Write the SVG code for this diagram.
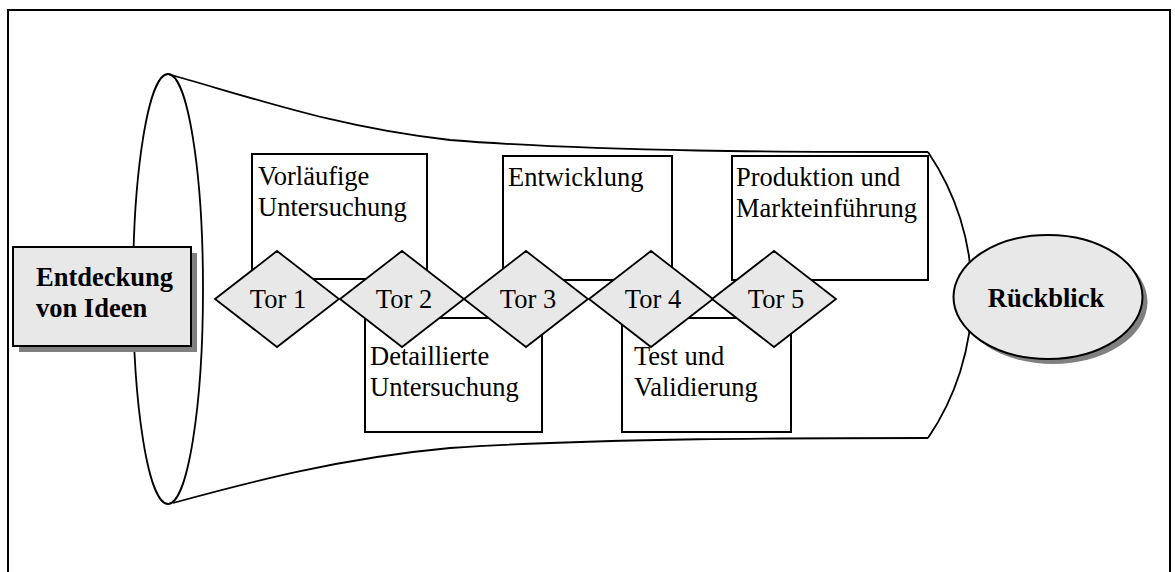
<svg xmlns="http://www.w3.org/2000/svg" width="1175" height="572" viewBox="0 0 1175 572">
  <style>
    .line { fill: none; stroke: #000; stroke-width: 1.8; }
    .box { fill: #fff; stroke: #000; stroke-width: 2; }
    .gate { fill: #e8e8e8; stroke: #000; stroke-width: 1.8; }
    .shadow { fill: #808080; stroke: none; }
    text { font-family: 'Liberation Serif', 'DejaVu Serif', serif; font-size: 26.5px; fill: #000; }
    .bold { font-weight: bold; }
    .mid { text-anchor: middle; }
  </style>

  <!-- outer frame -->
  <rect x="8" y="10" width="1162" height="620" fill="#fff" stroke="#000" stroke-width="2"/>

  <!-- funnel outline -->
  <g id="funnel">
    <path class="line" d="M168,74 C260,100 340,128 450,140 C600,152 800,152 928,152"/>
    <path class="line" d="M173,503 C250,482 340,458 450,448 C600,438 800,438 928,438"/>
    <path class="line" d="M928,152 A254.4,254.4 0 0 1 928,438"/>
    <ellipse class="line" cx="168" cy="289" rx="35" ry="215"/>
  </g>

  <g id="connectors"></g>

  <!-- stage boxes -->
  <g id="stage-vorlaeufige">
    <rect class="box" x="252" y="154" width="175" height="125"/>
    <text font-family="Liberation Serif, serif" x="258" y="185">Vorläufige</text>
    <text font-family="Liberation Serif, serif" x="258" y="216">Untersuchung</text>
  </g>
  <g id="stage-entwicklung">
    <rect class="box" x="503" y="156" width="169" height="124"/>
    <text font-family="Liberation Serif, serif" x="508" y="186">Entwicklung</text>
  </g>
  <g id="stage-produktion">
    <rect class="box" x="732" y="156" width="196" height="124"/>
    <text font-family="Liberation Serif, serif" x="736" y="186">Produktion und</text>
    <text font-family="Liberation Serif, serif" x="736" y="217">Markteinführung</text>
  </g>
  <g id="stage-detaillierte">
    <rect class="box" x="365" y="318" width="177" height="114"/>
    <text font-family="Liberation Serif, serif" x="370" y="365">Detaillierte</text>
    <text font-family="Liberation Serif, serif" x="370" y="396">Untersuchung</text>
  </g>
  <g id="stage-test">
    <rect class="box" x="622" y="318" width="169" height="114"/>
    <text font-family="Liberation Serif, serif" x="634" y="365">Test und</text>
    <text font-family="Liberation Serif, serif" x="634" y="396">Validierung</text>
  </g>

  <!-- gates -->
  <g id="tor1">
    <polygon class="gate" points="215,299 277,251 339,299 277,347"/>
    <text class="mid" x="278" y="308">Tor 1</text>
  </g>
  <g id="tor2">
    <polygon class="gate" points="340,299 402,251 464,299 402,347"/>
    <text class="mid" x="404" y="308">Tor 2</text>
  </g>
  <g id="tor3">
    <polygon class="gate" points="464,299 526,251 588,299 526,347"/>
    <text class="mid" x="528" y="308">Tor 3</text>
  </g>
  <g id="tor4">
    <polygon class="gate" points="589,299 651,251 713,299 651,347"/>
    <text class="mid" x="653" y="308">Tor 4</text>
  </g>
  <g id="tor5">
    <polygon class="gate" points="712,299 774,251 836,299 774,347"/>
    <text class="mid" x="776" y="308">Tor 5</text>
  </g>

  <!-- start: idea discovery -->
  <g id="entdeckung">
    <rect class="shadow" x="19" y="253" width="178" height="99"/>
    <rect x="13" y="247" width="178" height="99" fill="#e8e8e8" stroke="#000" stroke-width="2"/>
    <text class="bold" x="36" y="286">Entdeckung</text>
    <text class="bold" x="36" y="317">von Ideen</text>
  </g>

  <!-- end: review -->
  <g id="rueckblick">
    <ellipse class="shadow" cx="1053" cy="302" rx="94.5" ry="62"/>
    <ellipse cx="1048" cy="297" rx="94.5" ry="62" fill="#e8e8e8" stroke="#000" stroke-width="2"/>
    <text class="bold mid" x="1046" y="307">Rückblick</text>
  </g>
</svg>
